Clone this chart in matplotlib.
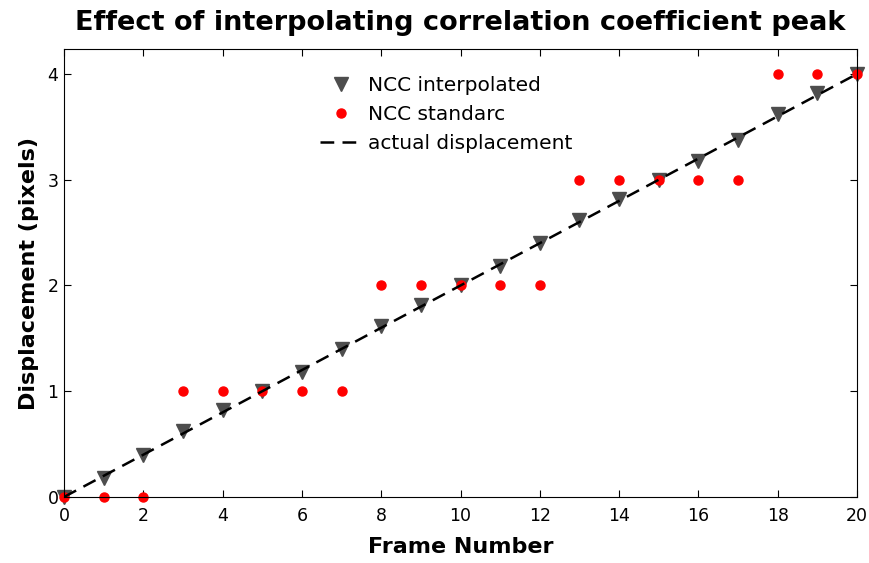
import matplotlib
matplotlib.use("Agg")
import matplotlib.pyplot as plt
import numpy as np

plt.rcParams['font.family'] = ['DejaVu Sans']

frames = np.arange(0, 21)
ncc_interp = [0.0, 0.18, 0.4, 0.62, 0.82, 1.0, 1.18, 1.4, 1.62, 1.82, 2.0,
              2.18, 2.4, 2.62, 2.82, 3.0, 3.18, 3.38, 3.62, 3.82, 4.0]
ncc_std = [0, 0, 0, 1, 1, 1, 1, 1, 2, 2, 2, 2, 2, 3, 3, 3, 3, 3, 4, 4, 4]
actual = frames * 0.2

fig = plt.figure(figsize=(8.7, 5.63), dpi=100)
ax = fig.add_axes([64/870, 1-497/563, (857-64)/870, (497-49)/563])

ax.plot(frames, ncc_interp, 'v', color='#4d4d4d', markersize=10, label='NCC interpolated', clip_on=False)
ax.plot(frames, ncc_std, 'o', color='red', markersize=6.5, label='NCC standarc', clip_on=False)
ax.plot(frames, actual, '--', color='black', linewidth=1.8, dashes=(5.5, 3.3), label='actual displacement')

ax.set_xlim(0, 20)
ax.set_ylim(0, 4.236)
ax.set_xticks(range(0, 21, 2))
ax.set_yticks(range(0, 5))
ax.tick_params(direction='in', top=True, right=True, labelsize=12.5, length=5)
ax.tick_params(axis='x', pad=7)
ax.tick_params(axis='y', pad=4)
ax.set_xlabel('Frame Number', fontsize=16, fontweight='bold', labelpad=9)
ax.set_ylabel('Displacement (pixels)', fontsize=16, fontweight='bold', labelpad=6)
ax.set_title('Effect of interpolating correlation coefficient peak', fontsize=19.5, fontweight='bold', pad=14)

ax.legend(loc='upper left', frameon=False, fontsize=14.5, handlelength=2.1, handletextpad=0.26,
          labelspacing=0.5, borderpad=0, borderaxespad=0, bbox_to_anchor=(0.323, 0.94))

fig.savefig('out.png', dpi=100)
